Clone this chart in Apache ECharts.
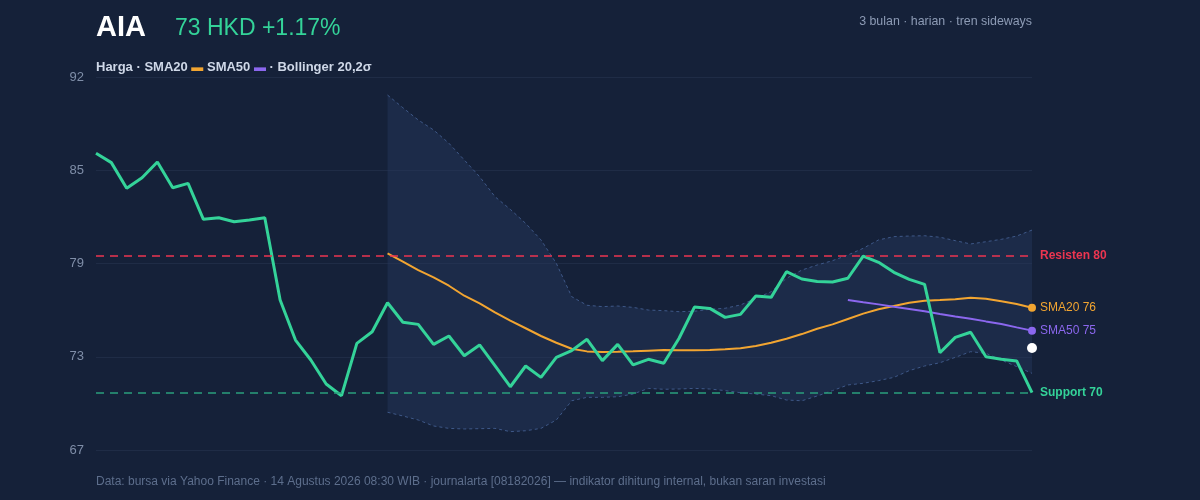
<!DOCTYPE html>
<html>
<head>
<meta charset="utf-8">
<script src="https://cdn.jsdelivr.net/npm/echarts@6/dist/echarts.min.js"></script>
<style>
html,body{margin:0;padding:0;background:#152139;}
#chart{width:1200px;height:500px;}
</style>
</head>
<body>
<div id="chart"></div>
<script>
// ---- data ----
var dayCount = 62;
var categories = [];
for (var d = 1; d <= dayCount; d++) categories.push('H' + d);

var price = [86.89,86.26,84.54,85.25,86.30,84.58,84.87,82.46,82.57,82.30,
             82.42,82.57,77.05,74.37,73.03,71.42,70.64,74.15,74.93,76.87,
             75.56,75.42,74.08,74.64,73.32,74.04,72.65,71.24,72.63,71.87,
             73.21,73.66,74.42,72.99,74.08,72.70,73.08,72.81,74.49,76.58,
             76.49,75.89,76.09,77.32,77.23,78.95,78.46,78.30,78.26,78.51,
             80.00,79.58,78.91,78.44,78.10,73.52,74.55,74.89,73.25,73.08,
             72.97,70.84];

var sma20 = [null,null,null,null,null,null,null,null,null,null,
             null,null,null,null,null,null,null,null,null,80.18,
             79.62,79.06,78.57,78.01,77.34,76.83,76.23,75.67,75.16,74.64,
             74.19,73.79,73.61,73.57,73.59,73.62,73.66,73.70,73.68,73.69,
             73.70,73.75,73.82,73.97,74.19,74.46,74.77,75.13,75.42,75.78,
             76.14,76.43,76.65,76.87,77.01,77.05,77.10,77.21,77.14,76.97,
             76.79,76.54];

var sma50 = [null,null,null,null,null,null,null,null,null,null,
             null,null,null,null,null,null,null,null,null,null,
             null,null,null,null,null,null,null,null,null,null,
             null,null,null,null,null,null,null,null,null,null,
             null,null,null,null,null,null,null,null,null,77.05,
             76.90,76.76,76.60,76.45,76.30,76.12,75.95,75.80,75.62,75.45,
             75.22,75.00];

var bbUpper = [null,null,null,null,null,null,null,null,null,null,
               null,null,null,null,null,null,null,null,null,90.79,
               89.94,89.12,88.45,87.56,86.44,85.32,83.98,83.13,82.19,81.08,
               79.51,77.28,76.70,76.61,76.65,76.56,76.38,76.34,76.27,76.30,
               76.43,76.50,76.72,77.16,77.61,78.51,79.06,79.40,79.69,80.07,
               80.52,81.08,81.30,81.34,81.36,81.26,81.03,80.81,80.96,81.12,
               81.34,81.74];

var bbLower = [null,null,null,null,null,null,null,null,null,null,
               null,null,null,null,null,null,null,null,null,69.53,
               69.28,69.01,68.61,68.45,68.41,68.43,68.45,68.23,68.29,68.45,
               69.01,70.30,70.53,70.53,70.57,70.75,71.13,71.07,71.09,71.13,
               71.09,70.98,70.84,70.75,70.64,70.35,70.30,70.62,70.98,71.36,
               71.47,71.65,71.87,72.32,72.63,72.85,73.21,73.59,73.48,73.03,
               72.59,72.14];

var resistance = 80.0;
var support = 70.82;
var lastQuote = 73.84;
var yTickLabels = ['67','73','79','85','92'];

// ---- derived ----
var bandWidth = bbUpper.map(function(u, i){ return (u == null || bbLower[i] == null) ? null : +(u - bbLower[i]).toFixed(2); });
function withEndDot(arr, color){
  return arr.map(function(v, i){
    if (i === arr.length - 1) return {value: v, symbol: 'circle', symbolSize: 8, itemStyle: {color: color}};
    return v;
  });
}

var C = {
  bg: '#152139', green: '#34d399', orange: '#f2a531', purple: '#8b67ee',
  red: '#ec3550', teal: '#2a9e7c', bandLine: '#3e5888', bandFill: 'rgba(38,56,94,0.45)',
  grid: '#1f2c46', axis: '#7f8ea8'
};
var FF = '"Liberation Sans", Arial, sans-serif';

var chart = echarts.init(document.getElementById('chart'), null, {renderer: 'canvas'});
chart.setOption({
  backgroundColor: C.bg,
  animation: false,
  textStyle: {fontFamily: 'Liberation Sans, Arial, sans-serif'},
  grid: {left: 96, right: 168, top: 77, bottom: 50},
  xAxis: {
    type: 'category', data: categories, boundaryGap: false,
    axisLine: {show: false}, axisTick: {show: false}, axisLabel: {show: false}, splitLine: {show: false}
  },
  yAxis: {
    type: 'value', min: 67, max: 92, interval: 6.25,
    axisLine: {show: false}, axisTick: {show: false},
    axisLabel: {color: C.axis, fontSize: 13, margin: 12,
      formatter: function(v){ var idx = Math.round((v - 67) / 6.25); return yTickLabels[idx] || ''; }},
    splitLine: {lineStyle: {color: C.grid, width: 1}}
  },
  graphic: [
    {type: 'text', left: 96, top: 13, style: {text: 'AIA', fill: '#ffffff', font: 'bold 29px ' + FF}},
    {type: 'text', left: 175, top: 17, style: {text: '73 HKD +1.17%', fill: C.green, font: '23px ' + FF}},
    {type: 'text', right: 168, top: 16, style: {text: '3 bulan · harian · tren sideways', fill: '#8d9bb5', font: '12.4px ' + FF, align: 'right'}},
    {type: 'text', left: 96, top: 61, style: {
      rich: {
        t: {fill: '#cfd8e8', font: 'bold 13px ' + FF},
        o: {fill: C.orange, font: 'bold 12px ' + FF},
        p: {fill: C.purple, font: 'bold 12px ' + FF}
      },
      text: '{t|Harga · SMA20 }{o|▬}{t| SMA50 }{p|▬}{t| · Bollinger 20,2σ}'
    }},
    {type: 'text', left: 96, top: 476, style: {text: 'Data: bursa via Yahoo Finance · 14 Agustus 2026 08:30 WIB · journalarta [08182026] — indikator dihitung internal, bukan saran investasi', fill: '#5d6e8c', font: '12px ' + FF}}
  ],
  series: [
    {
      name: 'BB lower', type: 'line', data: bbLower, stack: 'bb', symbol: 'none', silent: true,
      lineStyle: {color: C.bandLine, width: 1, type: [3, 3]}, z: 1
    },
    {
      name: 'BB upper', type: 'line', data: bandWidth, stack: 'bb', symbol: 'none', silent: true,
      lineStyle: {color: C.bandLine, width: 1, type: [3, 3]},
      areaStyle: {color: C.bandFill, opacity: 1}, z: 1
    },
    {
      name: 'SMA20', type: 'line', data: withEndDot(sma20, C.orange), symbol: 'none', showSymbol: true,
      lineStyle: {color: C.orange, width: 2}, itemStyle: {color: C.orange}, z: 3,
      endLabel: {show: true, formatter: 'SMA20 76', color: C.orange, fontSize: 12, distance: 8}
    },
    {
      name: 'SMA50', type: 'line', data: withEndDot(sma50, C.purple), symbol: 'none', showSymbol: true,
      lineStyle: {color: C.purple, width: 2}, itemStyle: {color: C.purple}, z: 3,
      endLabel: {show: true, formatter: 'SMA50 75', color: C.purple, fontSize: 12, distance: 8}
    },
    {
      name: 'Harga', type: 'line', data: price, symbol: 'none', lineStyle: {color: C.green, width: 3}, z: 4,
      markLine: {
        silent: true, symbol: 'none',
        data: [
          {yAxis: resistance, lineStyle: {color: C.red, type: [8, 6], width: 1.5},
           label: {show: true, position: 'end', formatter: 'Resisten 80', color: C.red, fontWeight: 'bold', fontSize: 12, distance: 8}},
          {yAxis: support, lineStyle: {color: C.teal, type: [8, 6], width: 1.5},
           label: {show: true, position: 'end', formatter: 'Support 70', color: C.green, fontWeight: 'bold', fontSize: 12, distance: 8}}
        ]
      }
    },
    {
      name: 'Last', type: 'scatter', data: [[categories[dayCount - 1], lastQuote]], symbolSize: 10,
      itemStyle: {color: '#ffffff', opacity: 1}, z: 5, silent: true
    }
  ]
});
</script>
</body>
</html>
